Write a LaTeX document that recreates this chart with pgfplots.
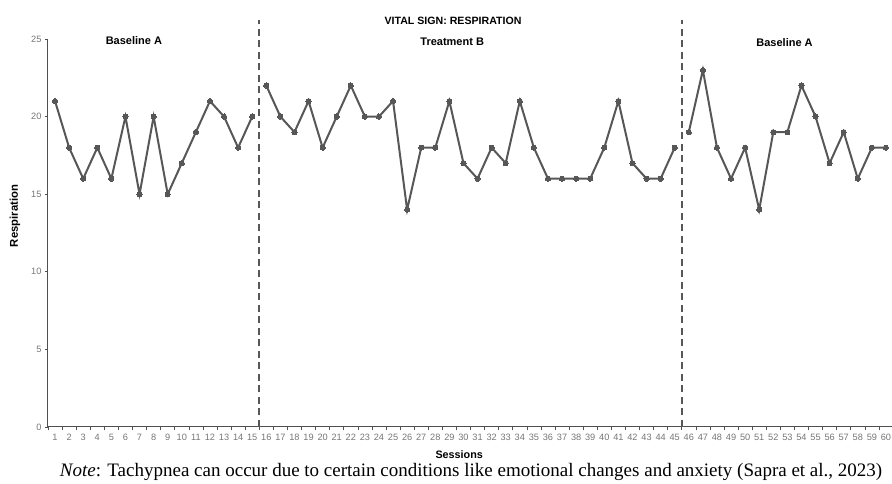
\documentclass[border=0pt]{standalone}
\usepackage{fontspec}
\setmainfont{Liberation Sans}
\newfontfamily\notefont{Liberation Serif}
\usepackage{pgfplots}
\pgfplotsset{compat=1.18}
\definecolor{linegray}{HTML}{575757}
\definecolor{ticktext}{HTML}{767676}
\definecolor{axisgray}{HTML}{505050}

% baseline A (sessions 1-15)
\pgfplotstableread{
s  r
1  21
2  18
3  16
4  18
5  16
6  20
7  15
8  20
9  15
10 17
11 19
12 21
13 20
14 18
15 20
}\phaseA

% treatment B (sessions 16-45)
\pgfplotstableread{
s  r
16 22
17 20
18 19
19 21
20 18
21 20
22 22
23 20
24 20
25 21
26 14
27 18
28 18
29 21
30 17
31 16
32 18
33 17
34 21
35 18
36 16
37 16
38 16
39 16
40 18
41 21
42 17
43 16
44 16
45 18
}\phaseB

% baseline A again (sessions 46-60)
\pgfplotstableread{
s  r
46 19
47 23
48 18
49 16
50 18
51 14
52 19
53 19
54 22
55 20
56 17
57 19
58 16
59 18
60 18
}\phaseC

\pgfplotsset{resp/.style={draw=linegray, line width=2pt, mark=*, mark size=2.6pt, mark options={solid, fill=linegray, draw=linegray, line width=0pt}}}

\begin{document}
\begin{tikzpicture}
\path[use as bounding box] (-48pt,-57pt) rectangle (844pt,427pt);
\begin{axis}[
    at={(0pt,0pt)}, anchor=origin,
    scale only axis,
    width=845pt, height=388pt,
    xmin=0.5, xmax=60.5,
    ymin=0, ymax=25,
    axis lines=left,
    axis line style={axisgray, line width=1pt, -},
    xtick={1,...,60},
    major x tick style={draw=none},
    minor xtick={0.5,1.5,...,60.5},
    minor tick length=3pt,
    ytick={0,5,...,25},
    major tick length=3pt,
    tick align=outside,
    tick style={axisgray, line width=0.6pt},
    ticklabel style={font=\fontsize{9.2}{10}\selectfont, text=ticktext},
    xticklabel style={inner xsep=0pt, anchor=north, text height=7pt, text depth=0pt},
    /pgf/number format/assume math mode=true,
    clip=false,
]
\addplot[resp] table[x=s, y=r] {\phaseA};
\addplot[resp] table[x=s, y=r] {\phaseB};
\addplot[resp] table[x=s, y=r] {\phaseC};
\draw[linegray, line width=1.8pt, dash pattern=on 7pt off 4.5pt] (axis cs:15.5,0) -- (axis cs:15.5,26.2);
\draw[linegray, line width=1.8pt, dash pattern=on 7pt off 4.5pt] (axis cs:45.5,0) -- (axis cs:45.5,26.2);
\node[font=\fontsize{10.6}{12}\selectfont\bfseries] at (axis cs:29.26,26.2) {VITAL SIGN: RESPIRATION};
\node[font=\fontsize{11}{12}\selectfont\bfseries] at (axis cs:6.6,24.87) {Baseline A};
\node[font=\fontsize{11}{12}\selectfont\bfseries] at (axis cs:29.2,24.8) {Treatment B};
\node[font=\fontsize{11}{12}\selectfont\bfseries] at (axis cs:52.8,24.8) {Baseline A};
\node[font=\fontsize{10.8}{12}\selectfont\bfseries] at (axis cs:29.7,-1.8) {Sessions};
\node[font=\fontsize{11.3}{12}\selectfont\bfseries, rotate=90] at (axis cs:-1.84,13.6) {Respiration};
\node[font=\notefont\fontsize{19}{22}\selectfont, anchor=base] at (axis cs:30.54,-3.22) {\textit{Note}: Tachypnea can occur due to certain conditions like emotional changes and anxiety (Sapra et al., 2023)};
\end{axis}
\end{tikzpicture}
\end{document}
